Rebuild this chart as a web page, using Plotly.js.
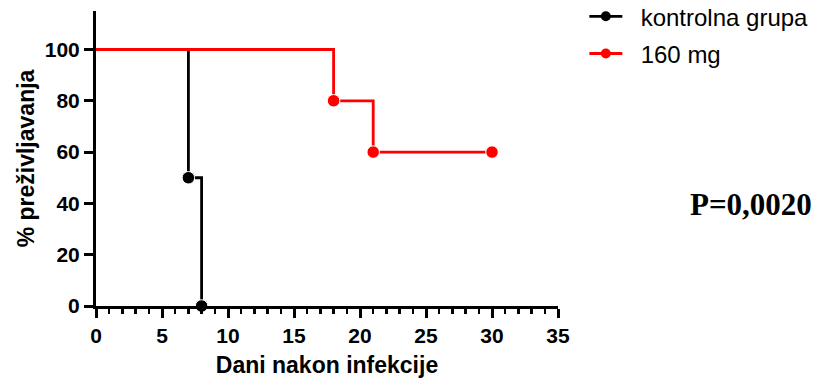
<!DOCTYPE html>
<html>
<head>
<meta charset="utf-8">
<script src="https://cdn.plot.ly/plotly-3.0.1.min.js"></script>
<style>
  html, body { margin: 0; padding: 0; background: #fff; }
  #chart { width: 822px; height: 385px; }
</style>
</head>
<body>
<div id="chart"></div>
<script>
// Survival data (Kaplan-Meier steps)
const controlName = "kontrolna grupa";
const controlDays = [0, 7, 8];
const controlSurvival = [100, 50, 0];

const treatedName = "160 mg";
const treatedDays = [0, 18, 21, 30];
const treatedSurvival = [100, 80, 60, 60];

const xTickVals = [0, 5, 10, 15, 20, 25, 30, 35];
const yTickVals = [0, 20, 40, 60, 80, 100];
const xTitle = "Dani nakon infekcije";
const yTitle = "% preživljavanja";
const pText = "P=0,0020";

function markerSizes(arr, s) { return arr.map((v, i) => i === 0 ? 0 : s); }

const series = [
  { name: controlName, x: controlDays, y: controlSurvival, color: "#000000", group: "a" },
  { name: treatedName, x: treatedDays, y: treatedSurvival, color: "#ff0000", group: "b" }
];

const traces = [];
series.forEach(s => {
  traces.push({
    x: s.x, y: s.y, name: s.name, showlegend: false,
    type: "scatter", mode: "lines+markers",
    line: { shape: "hv", color: s.color, width: 2.8 },
    marker: { color: s.color, opacity: 1, size: markerSizes(s.x, 12.5) },
    cliponaxis: false
  });
});
series.forEach(s => {
  traces.push({
    x: [null], y: [null], name: "\u00a0\u00a0" + s.name, showlegend: true,
    legendgroup: s.group,
    type: "scatter", mode: "lines+markers",
    line: { color: s.color, width: 2.8 },
    marker: { color: s.color, opacity: 1, size: 10 }
  });
});

const layout = {
  width: 822, height: 385,
  margin: { l: 96, r: 264, t: 11, b: 79, autoexpand: false },
  paper_bgcolor: "#ffffff", plot_bgcolor: "#ffffff",
  font: { family: "Liberation Sans, Arial, sans-serif", color: "#000" },
  showlegend: true,
  legend: {
    x: 1.057, xanchor: "left", y: 1.057, yanchor: "top",
    itemwidth: 33, traceorder: "grouped", tracegroupgap: 3,
    font: { size: 24, family: "Liberation Sans, Arial, sans-serif", color: "#000" },
    bgcolor: "rgba(0,0,0,0)", borderwidth: 0
  },
  xaxis: {
    range: [0, 35], tickvals: xTickVals, ticktext: xTickVals.map(String),
    showline: true, linecolor: "#000", linewidth: 3,
    ticks: "outside", ticklen: 9, tickwidth: 3, tickcolor: "#000",
    minor: { dtick: 1, ticks: "outside", ticklen: 5, tickwidth: 2.5, tickcolor: "#000", showgrid: false },
    showgrid: false, zeroline: false, automargin: false,
    tickfont: { size: 21, family: "Liberation Sans, Arial, sans-serif", weight: "bold", color: "#000" },
    title: { text: "<b>" + xTitle + "</b>", standoff: 11,
      font: { size: 23, family: "Liberation Sans, Arial, sans-serif", color: "#000" } }
  },
  yaxis: {
    range: [0, 115], tickvals: yTickVals, ticktext: yTickVals.map(String),
    showline: true, linecolor: "#000", linewidth: 3,
    ticks: "outside", ticklen: 9, tickwidth: 3, tickcolor: "#000",
    showgrid: false, zeroline: false, automargin: false,
    tickfont: { size: 21, family: "Liberation Sans, Arial, sans-serif", weight: "bold", color: "#000" },
    title: { text: "<b>" + yTitle + "</b>", standoff: 4,
      font: { size: 23, family: "Liberation Sans, Arial, sans-serif", color: "#000" } }
  },
  annotations: [
    {
      text: "<b>" + pText + "</b>", xref: "paper", yref: "paper",
      x: 1.418, y: 0.343, xanchor: "center", yanchor: "middle", showarrow: false,
      font: { size: 31, family: "Liberation Serif, Times New Roman, serif", color: "#000" }
    }
  ]
};

Plotly.newPlot("chart", traces, layout, { displayModeBar: false, staticPlot: true });
</script>
</body>
</html>
